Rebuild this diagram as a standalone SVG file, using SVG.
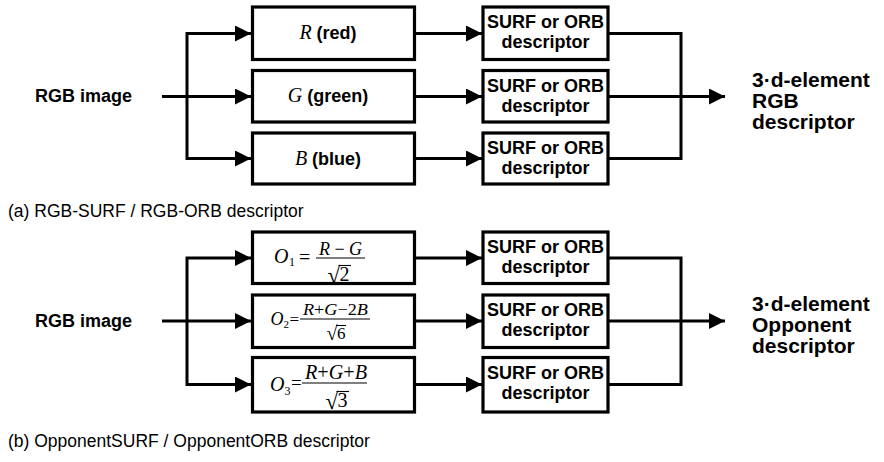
<svg xmlns="http://www.w3.org/2000/svg" width="884" height="462" viewBox="0 0 884 462">
  <style>
    .box { fill: #ffffff; stroke: #000000; stroke-width: 3.2; }
    .wire { fill: none; stroke: #000000; stroke-width: 3; }
    .bar { stroke: #000000; stroke-width: 1.1; }
    .lbl { font-family: "Liberation Sans", Arial, sans-serif; font-weight: bold; font-size: 18px; fill: #000; }
    .big { font-family: "Liberation Sans", Arial, sans-serif; font-weight: bold; font-size: 21px; fill: #000; }
    .cap { font-family: "Liberation Sans", Arial, sans-serif; font-size: 17.5px; fill: #000; }
    .m { font-family: "Liberation Serif", "Times New Roman", serif; fill: #000; }
    .it { font-style: italic; }
  </style>
  <defs>
    <marker id="head" markerUnits="userSpaceOnUse" markerWidth="16" markerHeight="16" refX="16" refY="8" orient="auto-start-reverse">
      <path d="M0,0 L16,8 L0,16 Z" fill="#000"/>
    </marker>
  </defs>

  <!-- (a) RGB pipeline -->
  <g id="rgb-input"><text class="lbl" x="35" y="102">RGB image</text></g>

  <g id="ch-r">
    <rect class="box" x="252.5" y="7" width="162" height="52.5"/>
    <text x="328" y="39" text-anchor="middle"><tspan class="m it" font-size="20">R</tspan><tspan class="lbl"> (red)</tspan></text>
  </g>
  <g id="ch-g">
    <rect class="box" x="252.5" y="70.5" width="162" height="51.5"/>
    <text x="328" y="102" text-anchor="middle"><tspan class="m it" font-size="20">G</tspan><tspan class="lbl"> (green)</tspan></text>
  </g>
  <g id="ch-b">
    <rect class="box" x="252.5" y="133" width="162" height="51"/>
    <text x="328" y="165" text-anchor="middle"><tspan class="m it" font-size="20">B</tspan><tspan class="lbl"> (blue)</tspan></text>
  </g>

  <g id="desc-r">
    <rect class="box" x="483" y="7" width="125" height="52.5"/>
    <text class="lbl" x="545.5" y="28" text-anchor="middle">SURF or ORB</text>
    <text class="lbl" x="545.5" y="48" text-anchor="middle">descriptor</text>
  </g>
  <g id="desc-g">
    <rect class="box" x="483" y="70.5" width="125" height="51.5"/>
    <text class="lbl" x="545.5" y="91.5" text-anchor="middle">SURF or ORB</text>
    <text class="lbl" x="545.5" y="111.5" text-anchor="middle">descriptor</text>
  </g>
  <g id="desc-b">
    <rect class="box" x="483" y="133" width="125" height="51"/>
    <text class="lbl" x="545.5" y="154" text-anchor="middle">SURF or ORB</text>
    <text class="lbl" x="545.5" y="174" text-anchor="middle">descriptor</text>
  </g>

  <g id="rgb-output">
    <text class="big" x="752" y="87">3·d-element</text>
    <text class="big" x="752" y="108">RGB</text>
    <text class="big" x="752" y="129">descriptor</text>
  </g>

  <!-- (b) Opponent pipeline -->
  <g id="opp-input"><text class="lbl" x="35" y="327">RGB image</text></g>

  <g id="ch-o1">
    <rect class="box" x="252.5" y="232" width="162" height="51.5"/>
    <text class="m it" x="274" y="263" font-size="20">O</text>
    <text class="m" x="289" y="266" font-size="12">1</text>
    <text class="m" x="299" y="264" font-size="20">=</text>
    <text class="m" x="340.5" y="255" font-size="18" text-anchor="middle"><tspan class="it">R</tspan> − <tspan class="it">G</tspan></text>
    <line class="bar" x1="316" y1="258" x2="365" y2="258"/>
    <text class="m" x="327.5" y="282.5" font-size="23">√</text>
    <text class="m" x="339.5" y="281" font-size="20">2</text>
    <line class="bar" x1="338.5" y1="265.5" x2="351" y2="265.5"/>
  </g>
  <g id="ch-o2">
    <rect class="box" x="252.5" y="295" width="162" height="52.5"/>
    <text class="m it" x="270.5" y="325" font-size="18">O</text>
    <text class="m" x="283.5" y="328" font-size="11">2</text>
    <text class="m" x="289.5" y="325" font-size="17">=</text>
    <text class="m" x="303" y="315" font-size="17" textLength="65" lengthAdjust="spacingAndGlyphs"><tspan class="it">R</tspan>+<tspan class="it">G</tspan>−2<tspan class="it">B</tspan></text>
    <line class="bar" x1="300" y1="319" x2="370" y2="319"/>
    <text class="m" x="326.5" y="340" font-size="20">√</text>
    <text class="m" x="337" y="339" font-size="17">6</text>
    <line class="bar" x1="336" y1="325.5" x2="346" y2="325.5"/>
  </g>
  <g id="ch-o3">
    <rect class="box" x="252.5" y="357.5" width="162" height="54.5"/>
    <text class="m it" x="270" y="391" font-size="20">O</text>
    <text class="m" x="284.5" y="395" font-size="12">3</text>
    <text class="m" x="291" y="389" font-size="19">=</text>
    <text class="m" x="305" y="379" font-size="20" textLength="62" lengthAdjust="spacingAndGlyphs"><tspan class="it">R</tspan>+<tspan class="it">G</tspan>+<tspan class="it">B</tspan></text>
    <line class="bar" x1="302" y1="383" x2="367" y2="383"/>
    <text class="m" x="325.5" y="408.5" font-size="23">√</text>
    <text class="m" x="337.5" y="407" font-size="20">3</text>
    <line class="bar" x1="336.5" y1="391.5" x2="349" y2="391.5"/>
  </g>

  <g id="desc-o1">
    <rect class="box" x="483" y="232" width="125" height="51.5"/>
    <text class="lbl" x="545.5" y="253" text-anchor="middle">SURF or ORB</text>
    <text class="lbl" x="545.5" y="273" text-anchor="middle">descriptor</text>
  </g>
  <g id="desc-o2">
    <rect class="box" x="483" y="295" width="125" height="52.5"/>
    <text class="lbl" x="545.5" y="316" text-anchor="middle">SURF or ORB</text>
    <text class="lbl" x="545.5" y="336" text-anchor="middle">descriptor</text>
  </g>
  <g id="desc-o3">
    <rect class="box" x="483" y="357.5" width="125" height="54.5"/>
    <text class="lbl" x="545.5" y="379" text-anchor="middle">SURF or ORB</text>
    <text class="lbl" x="545.5" y="399" text-anchor="middle">descriptor</text>
  </g>

  <g id="opp-output">
    <text class="big" x="752" y="311">3·d-element</text>
    <text class="big" x="752" y="332">Opponent</text>
    <text class="big" x="752" y="353">descriptor</text>
  </g>

  <!-- captions -->
  <text class="cap" x="8" y="217">(a) RGB-SURF / RGB-ORB descriptor</text>
  <text class="cap" x="8" y="447">(b) OpponentSURF / OpponentORB descriptor</text>

  <!-- connectors -->
  <g id="connectors">
    <path class="wire" d="M162,96.5 H251" marker-end="url(#head)"/>
    <path class="wire" d="M251,33.5 H187 V158.5 H251" marker-start="url(#head)" marker-end="url(#head)"/>
    <path class="wire" d="M414,33.5 H482" marker-end="url(#head)"/>
    <path class="wire" d="M414,96.5 H482" marker-end="url(#head)"/>
    <path class="wire" d="M414,158.5 H482" marker-end="url(#head)"/>
    <path class="wire" d="M608,33.5 H681 V158.5 H608"/>
    <path class="wire" d="M608,96.5 H725" marker-end="url(#head)"/>

    <path class="wire" d="M162,321 H251" marker-end="url(#head)"/>
    <path class="wire" d="M251,258 H187 V384.5 H251" marker-start="url(#head)" marker-end="url(#head)"/>
    <path class="wire" d="M414,258 H482" marker-end="url(#head)"/>
    <path class="wire" d="M414,321 H482" marker-end="url(#head)"/>
    <path class="wire" d="M414,384.5 H482" marker-end="url(#head)"/>
    <path class="wire" d="M608,258 H681 V384.5 H608"/>
    <path class="wire" d="M608,321 H725" marker-end="url(#head)"/>
  </g>
</svg>
